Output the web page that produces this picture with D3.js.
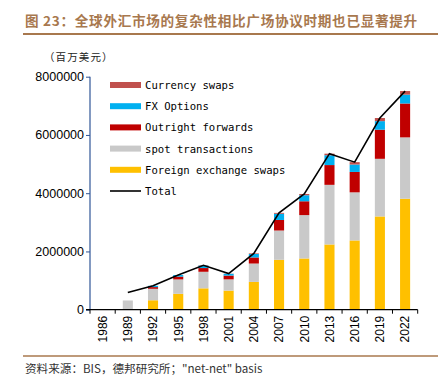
<!DOCTYPE html>
<html><head><meta charset="utf-8">
<script src="https://cdn.jsdelivr.net/npm/d3@7"></script>
<style>
html,body{margin:0;padding:0;background:#fff;}
svg{display:block;}
</style></head>
<body>
<svg id="c" width="438" height="382"></svg>
<script>
const years = ["1986","1989","1992","1995","1998","2001","2004","2007","2010","2013","2016","2019","2022"];
const fxSwaps   = [0, 0, 324000, 546000, 734000, 656000, 954000, 1714000, 1759000, 2240000, 2378000, 3202000, 3810000];
const spot      = [0, 317000, 394000, 494000, 568000, 386000, 631000, 1005000, 1489000, 2047000, 1652000, 1979000, 2107000];
const outright  = [0, 0, 58000, 97000, 128000, 130000, 209000, 362000, 475000, 679000, 700000, 999000, 1163000];
const fxOptions = [0, 0, 44000, 53000, 87000, 60000, 119000, 212000, 207000, 337000, 254000, 294000, 304000];
const curSwaps  = [0, 0, 0, 0, 10000, 7000, 21000, 31000, 43000, 54000, 82000, 108000, 124000];
const totals    = [null, 590000, 820000, 1190000, 1527000, 1239000, 1934000, 3324000, 3973000, 5357000, 5066000, 6581000, 7506000];
const yTicks = [0, 2000000, 4000000, 6000000, 8000000];
const seriesNames = ["Foreign exchange swaps","spot transactions","Outright forwards","FX Options","Currency swaps"];
const seriesColors = ["#FFC000","#C9C9C9","#C00000","#00B0F0","#C0504D"];
const titleText = "图 23：全球外汇市场的复杂性相比广场协议时期也已显著提升";
const unitText = "（百万美元）";
const sourceText = "资料来源：BIS，德邦研究所；\"net-net\" basis";

const svg = d3.select("#c");
const brown = "#A8784E";

// title
svg.append("text").attr("x",25).attr("y",26)
  .attr("font-family","'Noto Sans CJK SC'").attr("font-weight","bold")
  .attr("font-size",13.6).attr("fill",brown).attr("letter-spacing",0.7).text(titleText);
svg.append("line").attr("x1",23).attr("x2",438).attr("y1",34).attr("y2",34)
  .attr("stroke",brown).attr("stroke-width",2);
svg.append("text").attr("x",44).attr("y",61)
  .attr("font-family","'Noto Sans CJK SC'").attr("font-size",10.5).attr("letter-spacing",1.1).attr("fill","#222").text(unitText);

// footer
svg.append("line").attr("x1",23).attr("x2",438).attr("y1",356).attr("y2",356)
  .attr("stroke",brown).attr("stroke-width",1.5);
svg.append("text").attr("x",25).attr("y",373)
  .attr("font-family","'Noto Sans CJK SC'").attr("font-size",11.6).attr("fill","#333").text(sourceText);

const x = d3.scaleBand().domain(years).range([90, 417.7]).padding(0);
const y = d3.scaleLinear().domain([0, 8000000]).range([309.7, 76.7]);
const bw = x.bandwidth();

// stacked data
const table = years.map((yr,i)=>({year:yr, s0:fxSwaps[i], s1:spot[i], s2:outright[i], s3:fxOptions[i], s4:curSwaps[i]}));
const stack = d3.stack().keys(["s0","s1","s2","s3","s4"])(table);

stack.forEach((layer, li) => {
  svg.append("g").selectAll("rect").data(layer).join("rect")
    .attr("x", d => x(d.data.year) + bw*0.3)
    .attr("width", bw*0.4)
    .attr("y", d => y(d[1]))
    .attr("height", d => Math.max(0, y(d[0]) - y(d[1])))
    .attr("fill", seriesColors[li]);
});

// total line
const line = d3.line().defined(d => d.v != null)
  .x(d => x(d.year) + bw/2).y(d => y(d.v));
svg.append("path").datum(years.map((yr,i)=>({year:yr, v:totals[i]})))
  .attr("d", line).attr("fill","none").attr("stroke","#000").attr("stroke-width",1.6);

// y axis
const yAxis = d3.axisLeft(y).tickValues(yTicks).tickSize(4).tickFormat(d3.format("d"));
const gy = svg.append("g").attr("transform","translate(90,0)").call(yAxis);
gy.select(".domain").attr("stroke","#2F5597").attr("stroke-width",1.2).attr("d","M0,76.7V309.7");
gy.selectAll(".tick line").attr("stroke","#2F5597");
gy.selectAll(".tick text").attr("font-family","'Liberation Sans', Arial").attr("font-size",12.5).attr("fill","#000").attr("x",-6);

// x axis
const gx = svg.append("g").attr("transform","translate(0,309.7)");
gx.append("line").attr("x1",86).attr("x2",417.7).attr("y1",0).attr("y2",0).attr("stroke","#000").attr("stroke-width",1.2);
const bounds = years.map(yv => x(yv)).concat([x(years[years.length-1]) + bw]);
gx.selectAll("line.tk").data(bounds).join("line").attr("class","tk")
  .attr("x1",d=>d).attr("x2",d=>d).attr("y1",0).attr("y2",4).attr("stroke","#000");
gx.selectAll("text").data(years).join("text")
  .attr("transform", d => `translate(${x(d)+bw/2+4.3},6) rotate(-90)`)
  .attr("text-anchor","end")
  .attr("font-family","'Liberation Sans', Arial").attr("font-size",12).attr("fill","#000")
  .text(d=>d);

// legend
const legItems = [
  {name:"Currency swaps", color:seriesColors[4]},
  {name:"FX Options", color:seriesColors[3]},
  {name:"Outright forwards", color:seriesColors[2]},
  {name:"spot transactions", color:seriesColors[1]},
  {name:"Foreign exchange swaps", color:seriesColors[0]},
  {name:"Total", color:null}
];
const leg = svg.append("g");
legItems.forEach((it,i) => {
  const cy = 85 + i*21.2;
  if (it.color) {
    leg.append("rect").attr("x",110).attr("y",cy-3).attr("width",31).attr("height",6).attr("fill",it.color);
  } else {
    leg.append("line").attr("x1",110).attr("x2",141).attr("y1",cy).attr("y2",cy).attr("stroke","#000").attr("stroke-width",1.6);
  }
  leg.append("text").attr("x",145).attr("y",cy+4)
    .attr("font-family","'DejaVu Sans Mono', 'Liberation Mono', monospace").attr("font-size",10.6).attr("fill","#000")
    .text(it.name);
});
</script>
</body></html>
